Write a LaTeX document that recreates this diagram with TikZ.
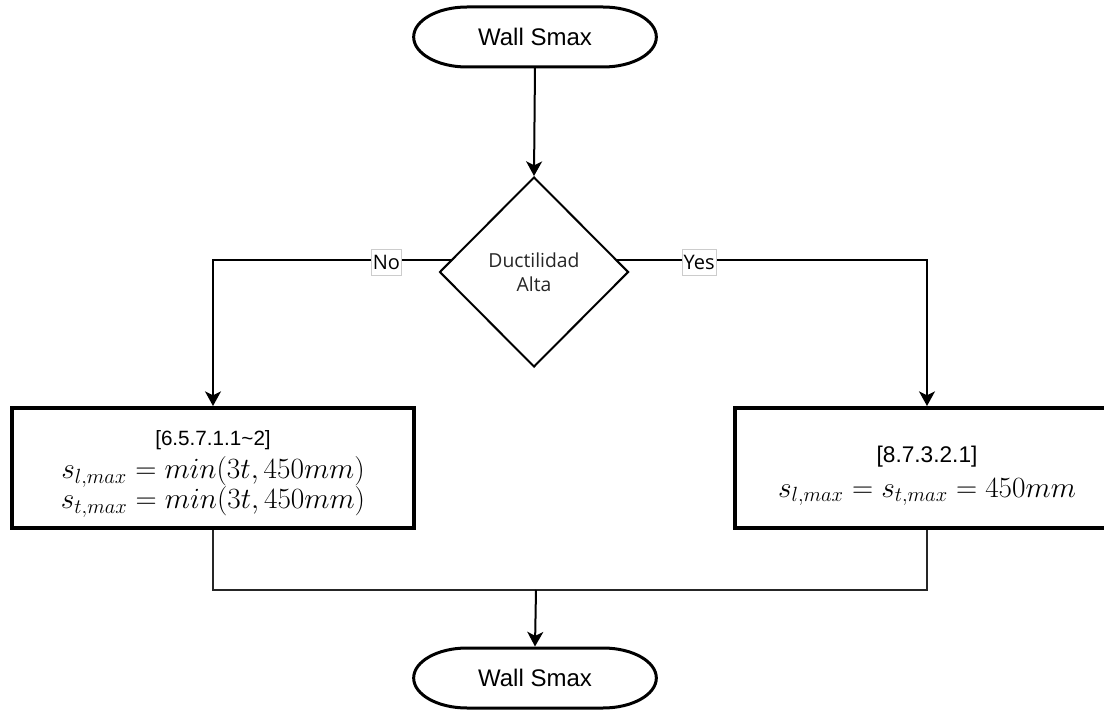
\RequirePackage{fix-cm}
\documentclass[tikz,border=0pt]{standalone}
\usepackage[no-math]{fontspec}
\newfontfamily\arialfont{Liberation Sans}
\newfontfamily\uifont{Open Sans}
\usetikzlibrary{shapes.geometric,arrows.meta,calc}

% stadium-like terminal outline drawn around an invisible node
\newcommand\drawterminal[1]{%
  \draw[termline] ([xshift=40pt]#1.north west) -- ([xshift=-40pt]#1.north east)
    arc[start angle=90,end angle=-90,x radius=40pt,y radius=22.5pt]
    -- ([xshift=40pt]#1.south west)
    arc[start angle=270,end angle=90,x radius=40pt,y radius=22.5pt] -- cycle;}

\begin{document}
\begin{tikzpicture}[x=0.75pt,y=0.75pt,
  terminal/.style={minimum width=182pt, minimum height=45pt, inner sep=0pt, outer sep=0pt,
    font=\arialfont\fontsize{18}{20}\selectfont},
  termline/.style={line width=2.25pt},
  decision/.style={diamond, draw, line width=1.5pt, aspect=1, inner sep=0pt,
    minimum width=141.75pt, minimum height=142.5pt, align=center,
    font=\uifont\fontsize{14.5}{18}\selectfont, text=black!85},
  process/.style={draw, line width=3pt, minimum height=90pt, inner sep=0pt, align=center,
    font=\fontsize{22}{20}\selectfont},
  conn/.style={line width=1.5pt, -{Stealth[length=11pt,width=12pt,inset=3pt]}},
  merge/.style={line width=1.1pt, draw=black!85},
  tag/.style={draw=black!20, line width=0.6pt, fill=white, inner xsep=1pt, inner ysep=4.5pt,
    yshift=-2pt, font=\uifont\fontsize{15}{18}\selectfont}
]
\clip (0,0) rectangle (1104,-710);

% start and end terminals
\node[terminal] (start) at (535,-37) {Wall Smax};
\drawterminal{start}
\node[terminal] (end) at (535,-678) {Wall Smax};
\drawterminal{end}

% decision
\node[decision] (dia) at (534,-272) {Ductilidad\\Alta};

% process boxes (the struts push each text block slightly below centre)
\node[process, minimum width=301.5pt] (boxL) at (213,-468)
  {{\arialfont\fontsize{15.5}{18}\selectfont\rule{0pt}{20pt}[6.5.7.1.1\textasciitilde2]}\\[5pt]
   $s_{l,max}=min(3t,450mm)$\\[-1.5pt]
   $s_{t,max}=min(3t,450mm)$};
\node[process, minimum width=288pt] (boxR) at (927,-468)
  {{\arialfont\fontsize{17}{18}\selectfont\rule{0pt}{24pt}[8.7.3.2.1]}\\[6pt]
   $s_{l,max}=s_{t,max}=450mm$};

% connectors
\coordinate (dl) at ($(dia.west)!0.127!(dia.north)$);
\coordinate (dr) at ($(dia.east)!0.127!(dia.north)$);
\coordinate (mrg) at (536,-590);

\draw[conn] (start.south) -- (dia.north);
\draw[conn] (dl) -| node[tag, pos=0.135] (no) {No} (boxL.north);
\draw[conn] (dr) -| node[tag, pos=0.132] (yes) {Yes} (boxR.north);
\draw[merge] (boxL.south) |- (mrg) -| (boxR.south);
\draw[conn] (mrg) -- ([yshift=1.1pt]end.north);
\end{tikzpicture}
\end{document}
